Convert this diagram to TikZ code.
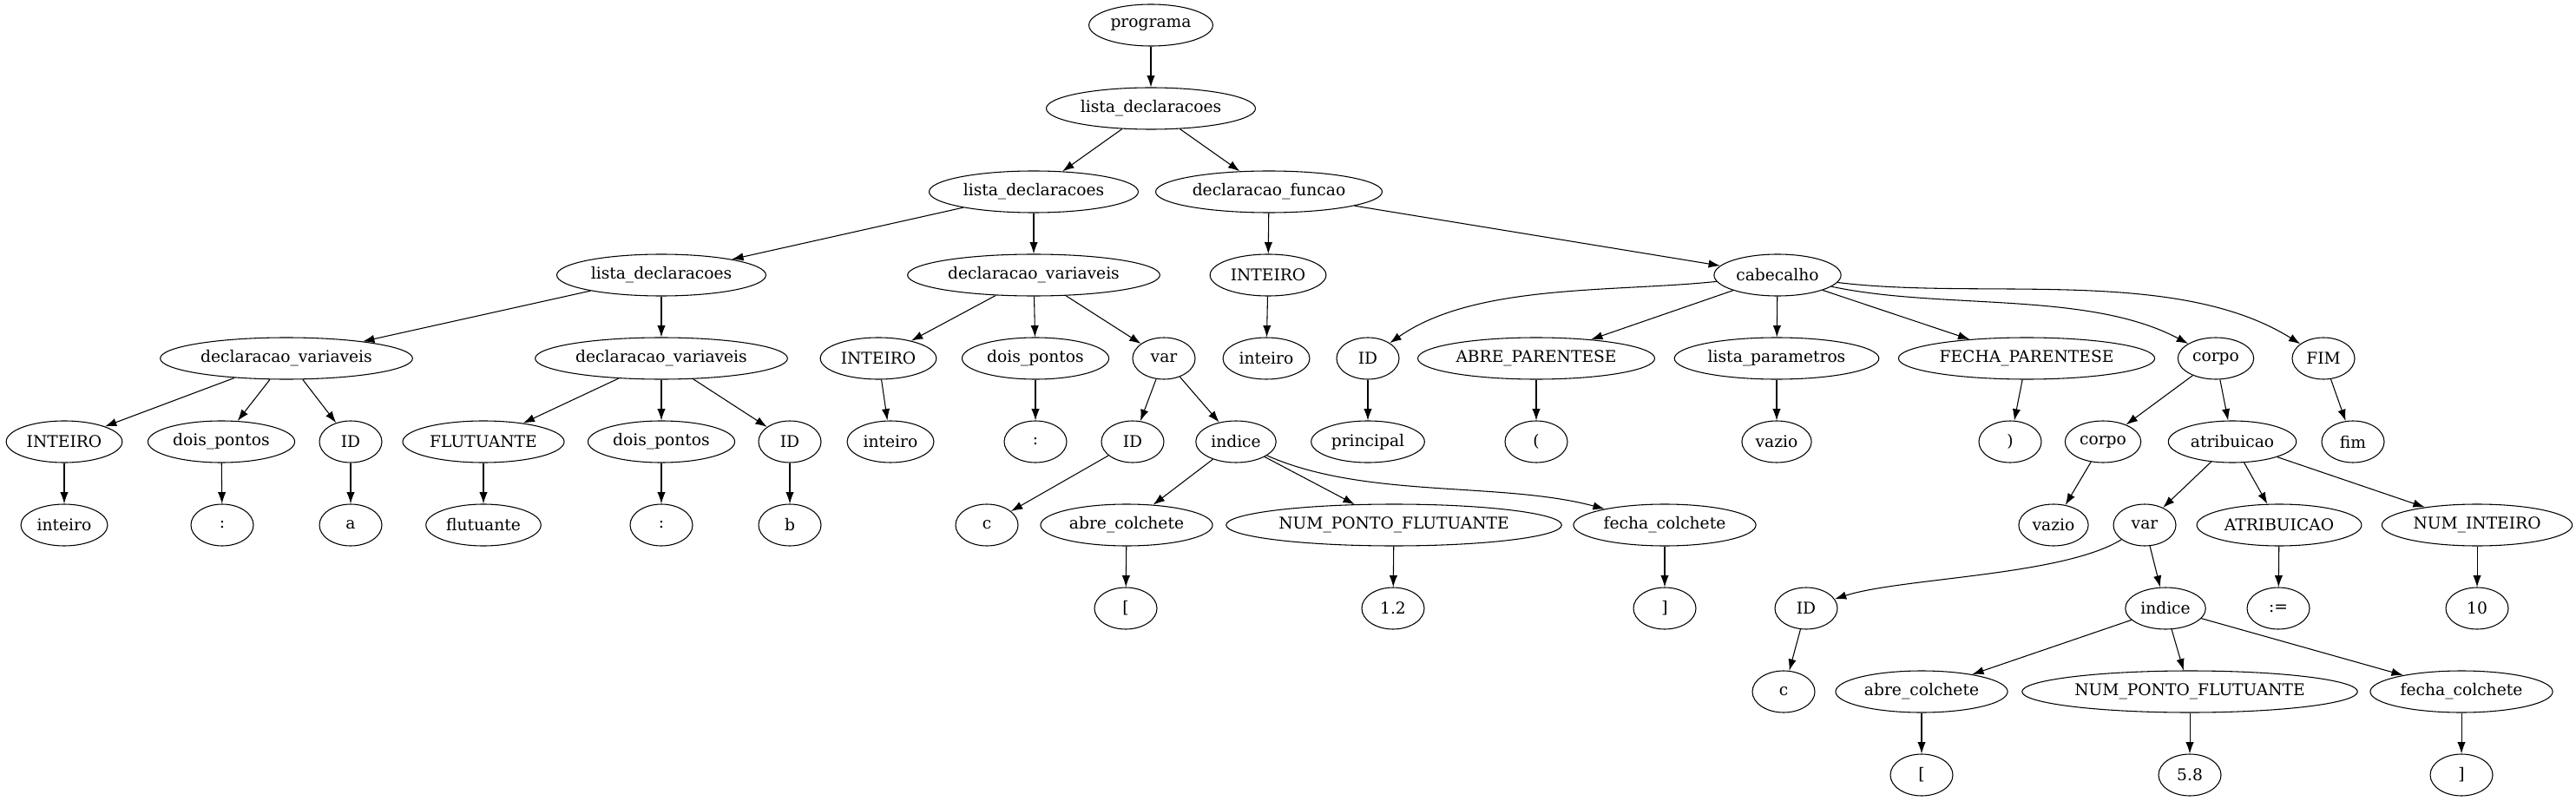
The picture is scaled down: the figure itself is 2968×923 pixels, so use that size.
\documentclass[tikz,border=0pt]{standalone}
\usepackage{fontspec}
\setmainfont{DejaVu Serif}
\usetikzlibrary{arrows.meta,shapes.geometric}

\begin{document}
\begin{tikzpicture}[font=\fontsize{14pt}{16pt}\selectfont, >={Latex[length=10pt,width=7pt]}, x=0.75pt, y=-0.75pt]
\tikzstyle{tok}=[draw, line width=0.8pt, ellipse, minimum width=54pt, minimum height=36pt, inner xsep=3pt, inner ysep=0pt]
\useasboundingbox (0,0) rectangle (2968,923);
% level 0-3
\node[tok] (prog) at (1326,29) {programa};
\node[tok] (ld1) at (1326,125) {lista\_declaracoes};
\node[tok] (ld2) at (1191,221) {lista\_declaracoes};
\node[tok] (dfunc) at (1462,221) {declaracao\_funcao};
\node[tok] (ld3) at (762,317) {lista\_declaracoes};
\node[tok] (dv3) at (1191,317) {declaracao\_variaveis};
\node[tok] (tint3) at (1461,317) {INTEIRO};
\node[tok] (cab) at (2048,317) {cabecalho};
% level 4
\node[tok] (dv1) at (330,413) {declaracao\_variaveis};
\node[tok] (dv2) at (762,413) {declaracao\_variaveis};
\node[tok] (tint2) at (1012,413) {INTEIRO};
\node[tok] (dp2) at (1193,413) {dois\_pontos};
\node[tok] (var1) at (1341,413) {var};
\node[tok] (vint3) at (1459,413) {inteiro};
\node[tok] (id3) at (1576,413) {ID};
\node[tok] (abrep) at (1770,413) {ABRE\_PARENTESE};
\node[tok] (lpar) at (2047,413) {lista\_parametros};
\node[tok] (fechap) at (2335,413) {FECHA\_PARENTESE};
\node[tok] (corpo1) at (2553,413) {corpo};
\node[tok] (fimT) at (2677,413) {FIM};
% level 5
\node[tok] (tint1) at (74,509) {INTEIRO};
\node[tok] (dp1) at (255,509) {dois\_pontos};
\node[tok] (id1) at (404,509) {ID};
\node[tok] (flut) at (557,509) {FLUTUANTE};
\node[tok] (dp1b) at (762,509) {dois\_pontos};
\node[tok] (id2) at (910,509) {ID};
\node[tok] (vint2) at (1026,509) {inteiro};
\node[tok] (colon2) at (1193,509) {:};
\node[tok] (id4) at (1305,509) {ID};
\node[tok] (ind1) at (1424,509) {indice};
\node[tok] (princ) at (1576,509) {principal};
\node[tok] (lparen) at (1770,509) {(};
\node[tok] (vazio1) at (2047,509) {vazio};
\node[tok] (rparen) at (2316,509) {)};
\node[tok] (corpo2) at (2423,509) {corpo};
\node[tok] (atrib) at (2572,509) {atribuicao};
\node[tok] (fimv) at (2711,509) {fim};
% level 6
\node[tok] (vint1) at (74,605) {inteiro};
\node[tok] (colon1) at (256,605) {:};
\node[tok] (va) at (404,605) {a};
\node[tok] (vflut) at (557,605) {flutuante};
\node[tok] (colon1b) at (762,605) {:};
\node[tok] (vb) at (910,605) {b};
\node[tok] (vc1) at (1137,605) {c};
\node[tok] (ac1) at (1298,605) {abre\_colchete};
\node[tok] (npf1) at (1606,605) {NUM\_PONTO\_FLUTUANTE};
\node[tok] (fc1) at (1918,605) {fecha\_colchete};
\node[tok] (vazio2) at (2366,605) {vazio};
\node[tok] (var2) at (2471,605) {var};
\node[tok] (atribT) at (2626,605) {ATRIBUICAO};
\node[tok] (nint) at (2854,605) {NUM\_INTEIRO};
% level 7-9
\node[tok] (lb1) at (1297,701) {[};
\node[tok] (n12) at (1605,701) {1.2};
\node[tok] (rb1) at (1918,701) {]};
\node[tok] (id5) at (2081,701) {ID};
\node[tok] (ind2) at (2495,701) {indice};
\node[tok] (assign) at (2625,701) {:=};
\node[tok] (n10) at (2854,701) {10};
\node[tok] (vc2) at (2055,797) {c};
\node[tok] (ac2) at (2214,797) {abre\_colchete};
\node[tok] (npf2) at (2523,797) {NUM\_PONTO\_FLUTUANTE};
\node[tok] (fc2) at (2836,797) {fecha\_colchete};
\node[tok] (lb2) at (2214,893) {[};
\node[tok] (n58) at (2523,893) {5.8};
\node[tok] (rb2) at (2836,893) {]};
% edges
\draw[->, thick] (prog) -- (ld1);
\draw[->, thick] (ld1) -- (ld2);
\draw[->, thick] (ld1) -- (dfunc);
\draw[->, thick] (ld2) -- (ld3);
\draw[->, thick] (ld2) -- (dv3);
\draw[->, thick] (dfunc) -- (tint3);
\draw[->, thick] (dfunc) -- (cab);
\draw[->, thick] (ld3) -- (dv1);
\draw[->, thick] (ld3) -- (dv2);
\draw[->, thick] (dv3) -- (tint2);
\draw[->, thick] (dv3) -- (dp2);
\draw[->, thick] (dv3) -- (var1);
\draw[->, thick] (tint3) -- (vint3);
\draw[->, thick] (cab) to[out=186, in=35, looseness=0.8] (id3);
\draw[->, thick] (cab) -- (abrep);
\draw[->, thick] (cab) -- (lpar);
\draw[->, thick] (cab) -- (fechap);
\draw[->, thick] (cab) to[out=-12, in=152, looseness=0.8] (corpo1);
\draw[->, thick] (cab) to[out=-7, in=148, looseness=0.8] (fimT);
\draw[->, thick] (dv1) -- (tint1);
\draw[->, thick] (dv1) -- (dp1);
\draw[->, thick] (dv1) -- (id1);
\draw[->, thick] (dv2) -- (flut);
\draw[->, thick] (dv2) -- (dp1b);
\draw[->, thick] (dv2) -- (id2);
\draw[->, thick] (tint2) -- (vint2);
\draw[->, thick] (dp2) -- (colon2);
\draw[->, thick] (var1) -- (id4);
\draw[->, thick] (var1) -- (ind1);
\draw[->, thick] (id3) -- (princ);
\draw[->, thick] (abrep) -- (lparen);
\draw[->, thick] (lpar) -- (vazio1);
\draw[->, thick] (fechap) -- (rparen);
\draw[->, thick] (corpo1) -- (corpo2);
\draw[->, thick] (corpo1) -- (atrib);
\draw[->, thick] (fimT) -- (fimv);
\draw[->, thick] (tint1) -- (vint1);
\draw[->, thick] (dp1) -- (colon1);
\draw[->, thick] (id1) -- (va);
\draw[->, thick] (flut) -- (vflut);
\draw[->, thick] (dp1b) -- (colon1b);
\draw[->, thick] (id2) -- (vb);
\draw[->, thick] (id4) -- (vc1);
\draw[->, thick] (ind1) -- (ac1);
\draw[->, thick] (ind1) -- (npf1);
\draw[->, thick] (ind1) to[out=-24, in=165, looseness=0.8] (fc1);
\draw[->, thick] (corpo2) -- (vazio2);
\draw[->, thick] (atrib) -- (var2);
\draw[->, thick] (atrib) -- (atribT);
\draw[->, thick] (atrib) -- (nint);
\draw[->, thick] (ac1) -- (lb1);
\draw[->, thick] (npf1) -- (n12);
\draw[->, thick] (fc1) -- (rb1);
\draw[->, thick] (var2) to[out=212, in=18, looseness=0.6] (id5);
\draw[->, thick] (var2) -- (ind2);
\draw[->, thick] (atribT) -- (assign);
\draw[->, thick] (nint) -- (n10);
\draw[->, thick] (id5) -- (vc2);
\draw[->, thick] (ind2) -- (ac2);
\draw[->, thick] (ind2) -- (npf2);
\draw[->, thick] (ind2) -- (fc2);
\draw[->, thick] (ac2) -- (lb2);
\draw[->, thick] (npf2) -- (n58);
\draw[->, thick] (fc2) -- (rb2);
\end{tikzpicture}
\end{document}
